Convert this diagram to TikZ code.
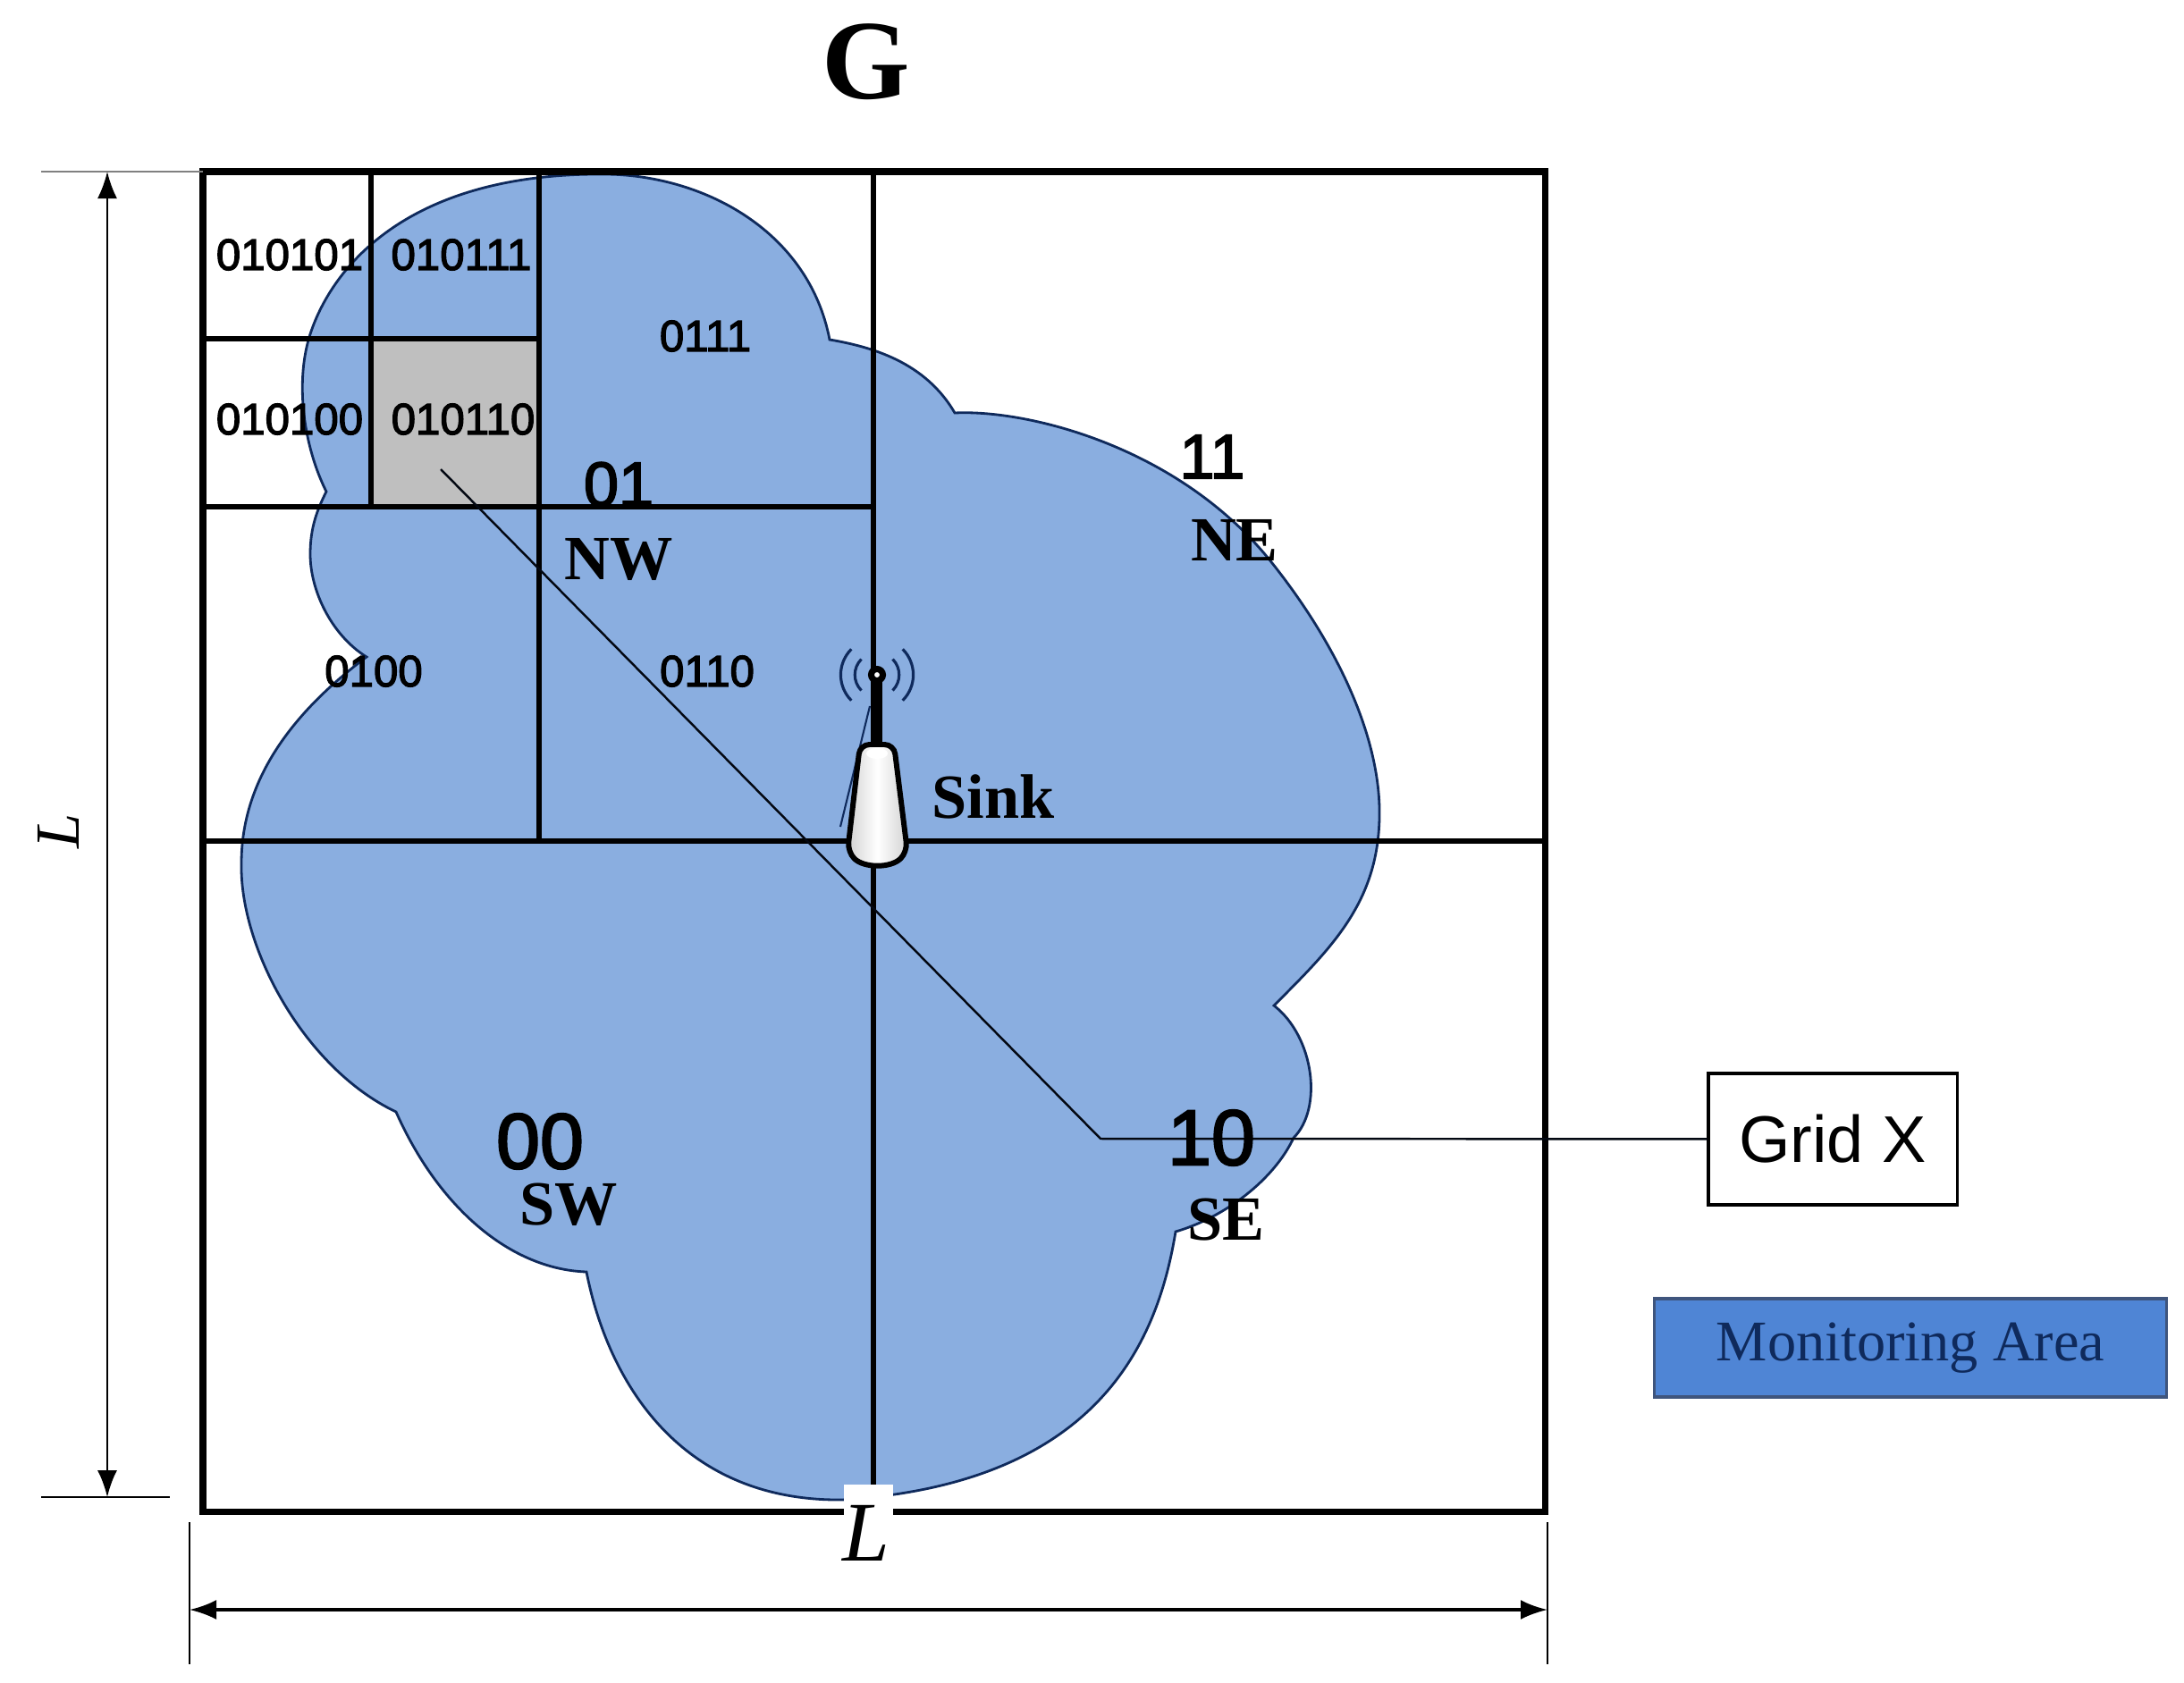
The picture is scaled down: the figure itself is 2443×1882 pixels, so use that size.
\documentclass[tikz,border=0pt]{standalone}
\usepackage{fontspec}
\setmainfont{Liberation Serif}
\newfontfamily\arialfont{Liberation Sans}
\newfontfamily\arialheavy[FakeBold=2.5]{Liberation Sans}
\usetikzlibrary{arrows.meta}
\definecolor{areablue}{HTML}{8AAEE0}
\definecolor{legendblue}{HTML}{4F85D5}
\definecolor{cellgray}{HTML}{BFBFBF}
\definecolor{inkblue}{HTML}{0F2A5C}
\begin{document}
\begin{tikzpicture}[x=.01cm,y=-.01cm]
            \tikzstyle{gridline}=[line width=1.5pt]
            \tikzstyle{dimline}=[line width=.7pt,{Latex[length=.3cm,width=.22cm]}-{Latex[length=.3cm,width=.22cm]}]
            \tikzstyle{tickline}=[line width=.6pt]
            \tikzstyle{wavearc}=[line width=.9pt,inkblue]
            \tikzstyle{celltext}=[inner sep=0,font=\arialheavy\fontsize{14}{16}\selectfont]
            \tikzstyle{codetext}=[inner sep=0,font=\arialheavy\fontsize{20}{24}\selectfont]
            \tikzstyle{bigcode}=[inner sep=0,font=\arialheavy\fontsize{25}{30}\selectfont]
            \tikzstyle{dirtext}=[inner sep=0,font=\bfseries\fontsize{20}{24}\selectfont]
            \tikzstyle{lentext}=[inner sep=0,font=\itshape\fontsize{27}{32}\selectfont]

            \useasboundingbox (0,0) rectangle (2443,1882);

            %monitoring_area
            \draw[fill=areablue,line width=.8pt,draw=inkblue] (365,550)
                .. controls (340,500) and (330,430) .. (346,377)
                .. controls (368,305) and (450,192) .. (680,195)
                .. controls (790,197) and (905,260) .. (928,380)
                .. controls (975,388) and (1035,405) .. (1068,462)
                .. controls (1150,458) and (1320,500) .. (1423,630)
                .. controls (1500,727) and (1545,830) .. (1543,915)
                .. controls (1541,1010) and (1490,1060) .. (1425,1125)
                .. controls (1470,1160) and (1480,1240) .. (1447,1273)
                .. controls (1425,1320) and (1370,1362) .. (1315,1378)
                .. controls (1295,1500) and (1230,1660) .. (942,1678)
                .. controls (760,1680) and (680,1545) .. (656,1423)
                .. controls (570,1420) and (490,1350) .. (443,1244)
                .. controls (340,1195) and (268,1060) .. (270,966)
                .. controls (270,870) and (330,795) .. (410,735)
                .. controls (370,710) and (347,660) .. (347,620)
                .. controls (347,590) and (355,570) .. (365,550) -- cycle;

            %grid_x_cell
            \fill[cellgray] (415,379) rectangle (603,567);

            %grid_lines
            \draw[gridline] (977,192)--(977,1661);
            \draw[gridline] (227,941)--(1728,941);
            \draw[gridline] (603,192)--(603,941);
            \draw[gridline] (227,567)--(977,567);
            \draw[gridline] (415,192)--(415,567);
            \draw[gridline] (227,379)--(603,379);
            \draw[line width=2pt] (227,192) rectangle (1728,1691);

            %white_patch
            \fill[white] (944,1661) rectangle (999,1697);

            %leader
            \node[draw,fill=white,line width=.9pt,inner sep=0,minimum width=2.78cm,minimum height=1.47cm,font=\arialfont\fontsize{21}{25}\selectfont] (gridx) at (2050,1274.5) {Grid X};
            \coordinate (gridtip) at (493,525);
            \coordinate (gridbend) at (1231,1274);
            \draw[line width=.7pt,black!80!inkblue] (gridtip)--(gridbend)--(gridx);

            %sink
            \draw[line width=.6pt,inkblue] (973,790)--(940,925);
            \draw[line width=3.4pt] (981,835)--(981,760);
            \draw[line width=1.7pt,rounded corners=3,left color=gray!35,right color=gray!35,middle color=white] (962,833)--(1000,833)--(1015,953) to[bend left=45] (948,953)--cycle;
            \fill[white] (981,843) ellipse (12 and 6);
            \draw[line width=2pt,fill=white] (981,755) circle (6.5);
            \foreach \r in {25,41}
            {
                \draw[wavearc] (981+.7*\r,755-.7*\r) to[bend left=45] (981+.7*\r,755+.7*\r);
                \draw[wavearc] (981-.7*\r,755-.7*\r) to[bend right=45] (981-.7*\r,755+.7*\r);
            }
            \node[dirtext] (sink) at (1111,891) {Sink};

            %cell_labels
            \node[celltext] (c010101) at (324,285) {010101};
            \node[celltext] (c010111) at (516,285) {010111};
            \node[celltext] (c010100) at (324,469) {010100};
            \node[celltext] (c010110) at (518,469) {010110};
            \node[celltext] (c0111) at (789,376) {0111};
            \node[celltext] (c0100) at (418,751) {0100};
            \node[celltext] (c0110) at (791,751) {0110};

            %quadrant_labels
            \node[codetext] (c01) at (692,542) {01};
            \node[dirtext] (nw) at (692,626) {NW};
            \node[codetext] (c11) at (1356,511) {11};
            \node[dirtext] (ne) at (1381,604) {NE};
            \node[bigcode] (c00) at (604,1277) {00};
            \node[dirtext] (sw) at (636,1348) {SW};
            \node[bigcode] (c10) at (1355,1273) {10};
            \node[dirtext] (se) at (1371,1365) {SE};

            %dimensions
            \draw[line width=.8pt,gray] (46,192)--(227,192);
            \draw[line width=.8pt] (46,1675)--(190,1675);
            \draw[tickline] (212,1703)--(212,1862);
            \draw[tickline] (1731,1703)--(1731,1862);
            \coordinate (lefttop) at (120,192);
            \coordinate (leftbot) at (120,1675);
            \coordinate (botleft) at (212,1801);
            \coordinate (botright) at (1731,1801);
            \draw[dimline] (lefttop)--(leftbot);
            \draw[dimline,line width=1pt] (botleft)--(botright);
            \node[lentext] (lbot) at (969,1715) {L};
            \node[inner sep=0,rotate=90,font=\itshape\fontsize{20}{24}\selectfont] (lleft) at (65,930) {L};

            %title_and_legend
            \node[inner sep=0,font=\bfseries\fontsize{36}{42}\selectfont] (title) at (969,69) {G};
            \node[draw=inkblue!80,fill=legendblue,line width=.9pt,inner sep=0,minimum width=5.72cm,minimum height=1.1cm,text=inkblue,font=\fontsize{18.3}{22}\selectfont] (legend) at (2137,1508) {\raisebox{-1.3pt}{Monitoring Area}};
       \end{tikzpicture}
\end{document}
